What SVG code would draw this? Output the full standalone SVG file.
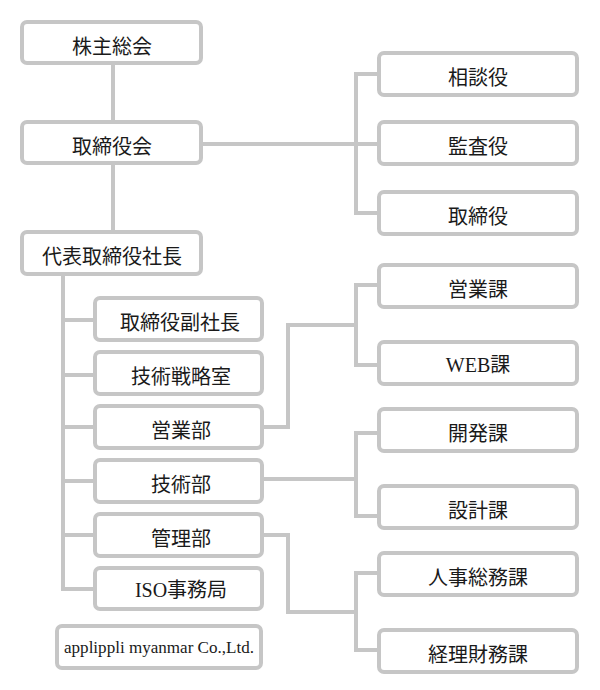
<svg xmlns="http://www.w3.org/2000/svg" width="600" height="690" viewBox="0 0 600 690">
<style>
.c{fill:none;stroke:#c6c6c6;stroke-width:4;stroke-linejoin:miter}
.b{fill:#fff;stroke:#c6c6c6;stroke-width:4}
.t{font-family:"Noto Sans CJK JP","Noto Sans",sans-serif;font-size:20px;fill:#1a1a1a;text-anchor:middle;dominant-baseline:central}
.s{font-family:"Liberation Serif","Noto Sans CJK JP",serif}
</style>
<rect width="600" height="690" fill="#fff"/>
<g id="connectors">
<path class="c" d="M113 63V122M113 163V232"/>
<path class="c" d="M201 144H356M379 74H356V213H379M356 144H379"/>
<path class="c" d="M63 274V589H95M63 320H95M63 375H95M63 427H95M63 481H95M63 535H95"/>
<path class="c" d="M262 427H288V325H356M379 285H356V365H379"/>
<path class="c" d="M262 479H356M379 433H356V516H379"/>
<path class="c" d="M262 535H288V612H356M379 573H356V650H379"/>
</g>
<g id="n-kabunushi"><rect class="b" x="22" y="22" width="179" height="41" rx="5"/><text class="t" x="112" y="45">株主総会</text></g>
<g id="n-torishimariyakukai"><rect class="b" x="22" y="122" width="179" height="41" rx="5"/><text class="t" x="112" y="145">取締役会</text></g>
<g id="n-shacho"><rect class="b" x="22" y="232" width="179" height="42" rx="5"/><text class="t" x="112" y="255">代表取締役社長</text></g>
<g id="n-sodanyaku"><rect class="b" x="379" y="53" width="198" height="42" rx="5"/><text class="t" x="478" y="76">相談役</text></g>
<g id="n-kansayaku"><rect class="b" x="379" y="122" width="198" height="42" rx="5"/><text class="t" x="478" y="145">監査役</text></g>
<g id="n-torishimariyaku"><rect class="b" x="379" y="192" width="198" height="42" rx="5"/><text class="t" x="478" y="215">取締役</text></g>
<g id="n-eigyoka"><rect class="b" x="379" y="265" width="198" height="42" rx="5"/><text class="t" x="478" y="288">営業課</text></g>
<g id="n-webka"><rect class="b" x="379" y="342" width="198" height="42" rx="5"/><text class="t s" x="478" y="365">WEB課</text></g>
<g id="n-kaihatsuka"><rect class="b" x="379" y="409" width="198" height="42" rx="5"/><text class="t" x="478" y="432">開発課</text></g>
<g id="n-sekkeika"><rect class="b" x="379" y="486" width="198" height="42" rx="5"/><text class="t" x="478" y="509">設計課</text></g>
<g id="n-jinjisomuka"><rect class="b" x="379" y="553" width="198" height="42" rx="5"/><text class="t" x="478" y="576">人事総務課</text></g>
<g id="n-keirizaimuka"><rect class="b" x="379" y="630" width="198" height="42" rx="5"/><text class="t" x="478" y="653">経理財務課</text></g>
<g id="n-fukushacho"><rect class="b" x="95" y="298" width="167" height="42" rx="5"/><text class="t" x="180" y="321">取締役副社長</text></g>
<g id="n-senryakushitsu"><rect class="b" x="95" y="352" width="167" height="42" rx="5"/><text class="t" x="181" y="375">技術戦略室</text></g>
<g id="n-eigyobu"><rect class="b" x="95" y="406" width="167" height="42" rx="5"/><text class="t" x="181" y="429">営業部</text></g>
<g id="n-gijutsubu"><rect class="b" x="95" y="460" width="167" height="42" rx="5"/><text class="t" x="181" y="483">技術部</text></g>
<g id="n-kanribu"><rect class="b" x="95" y="514" width="167" height="42" rx="5"/><text class="t" x="181" y="537">管理部</text></g>
<g id="n-iso"><rect class="b" x="95" y="568" width="167" height="41" rx="5"/><text class="t s" x="181" y="590">ISO事務局</text></g>
<g id="n-applippli"><rect class="b" x="57" y="626" width="204" height="42" rx="5"/><text x="159" y="653" text-anchor="middle" font-family="Liberation Serif, serif" font-size="16" fill="#1a1a1a" textLength="190" lengthAdjust="spacingAndGlyphs">applippli myanmar Co.,Ltd.</text></g>
</svg>
